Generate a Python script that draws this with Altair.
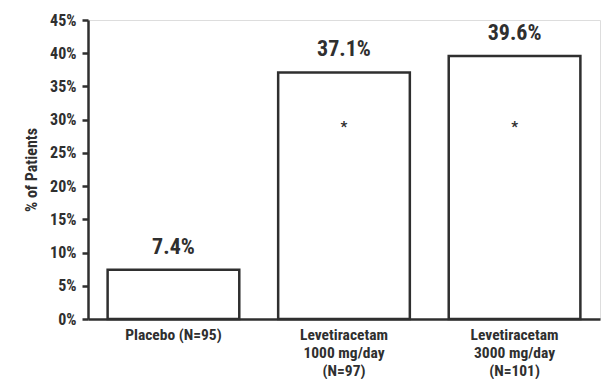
import altair as alt
import pandas as pd

categories = ["Placebo (N=95)",
              "Levetiracetam|1000 mg/day|(N=97)",
              "Levetiracetam|3000 mg/day|(N=101)"]
values = [7.4, 37.1, 39.6]
value_labels = ["7.4%", "37.1%", "39.6%"]
star_categories = ["Levetiracetam|1000 mg/day|(N=97)",
                   "Levetiracetam|3000 mg/day|(N=101)"]
star_values = [28.1, 28.1]
y_ticks = [0, 5, 10, 15, 20, 25, 30, 35, 40, 45]

FONT = ("Roboto Condensed, Noto Sans Condensed, Open Sans Condensed, "
        "DejaVu Sans Condensed, sans-serif")
INK = "#2f2f2f"

df = pd.DataFrame({"cat": categories, "val": values, "lab": value_labels})
stars = pd.DataFrame({"cat": star_categories, "val": star_values, "s": ["*", "*"]})

xenc = alt.X("cat:N", sort=categories,
             scale=alt.Scale(paddingInner=0.228, paddingOuter=0.115),
             axis=alt.Axis(title=None, labelAngle=0, ticks=False, domainColor=INK,
                           domainWidth=2.5, labelFont=FONT, labelFontSize=15.5,
                           labelFontWeight="bold", labelColor=INK, labelPadding=8,
                           labelLineHeight=18, labelExpr="split(datum.label, '|')"))
yenc = alt.Y("val:Q", scale=alt.Scale(domain=[0, 45], nice=False),
             axis=alt.Axis(title="% of Patients", values=y_ticks, labelExpr="datum.value + '%'",
                           grid=False, domainColor=INK, domainWidth=2.5, tickColor=INK,
                           tickWidth=2.5, tickSize=6, labelFont=FONT, labelFontSize=16,
                           labelFontWeight="bold", labelColor=INK, labelPadding=6,
                           labelOverlap=False, labelBound=False,
                           titleFont=FONT, titleFontSize=16, titleFontWeight="bold",
                           titleColor=INK, titlePadding=10))

bars = alt.Chart(df).mark_bar(fill="white", stroke=INK, strokeWidth=2.5).encode(x=xenc, y=yenc)

labels = alt.Chart(df).mark_text(font=FONT, fontSize=22, fontWeight="bold", color=INK,
                                 baseline="alphabetic", dy=-16).encode(
    x=xenc, y=yenc, text="lab:N")

star_marks = alt.Chart(stars).mark_text(font=FONT, fontSize=15, fontWeight="bold", color=INK,
                                        baseline="alphabetic").encode(
    x=xenc, y=yenc, text="s:N")

chart = alt.layer(bars, labels, star_marks).properties(
    width=512, height=299,
    autosize=alt.AutoSizeParams(type="none"),
    padding={"left": 80, "top": 12, "right": 4, "bottom": 60},
).configure_view(stroke=None).configure(background="white")

chart.save("out.html", embed_options={"renderer": "svg", "actions": False})
